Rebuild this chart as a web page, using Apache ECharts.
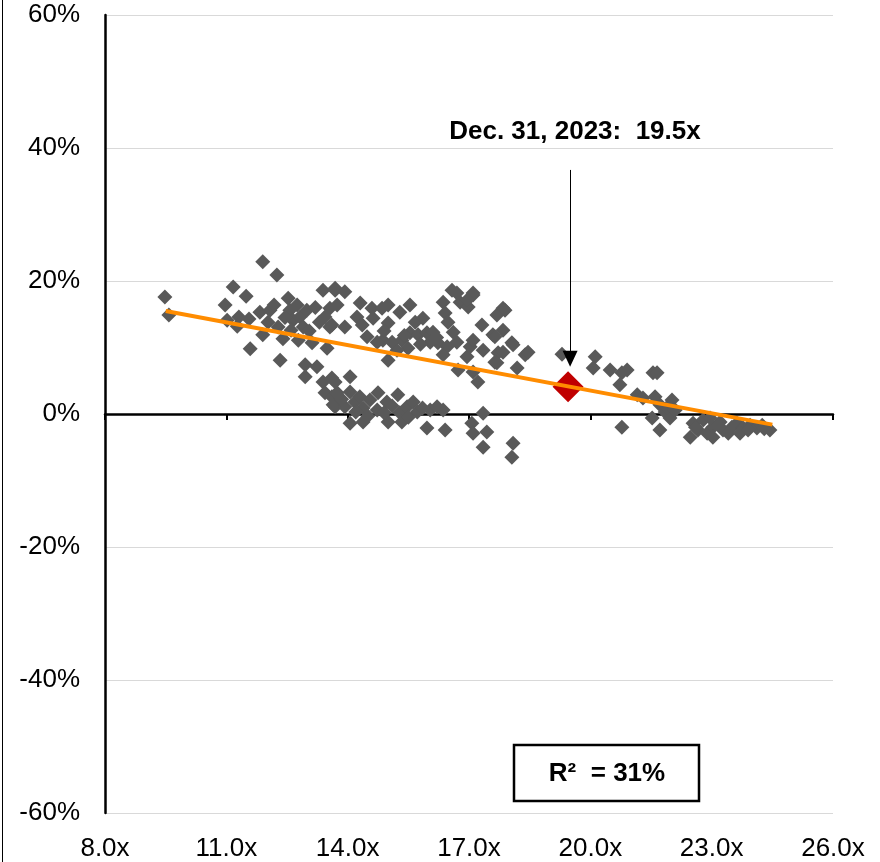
<!DOCTYPE html>
<html><head><meta charset="utf-8">
<script src="https://cdn.jsdelivr.net/npm/echarts@6/dist/echarts.min.js"></script>
<style>html,body{margin:0;padding:0;background:#fff}#c{width:880px;height:862px}</style>
</head><body><div id="c"></div>
<script>
// ---- axis settings ----
const xMin = 8, xMax = 26, xStep = 3;
const yMin = -60, yMax = 60, yStep = 20;

// ---- data: [P/E multiple (x), forward return (%)] ----
const pointsUpper = [
  [9.48,17.6],[9.58,14.9],
  [11.9,22.9],[12.25,20.9],[11.17,19.1],[11.49,17.7],[10.97,16.4],[11.02,14.1],[11.31,14.6],[11.27,13.2],
  [11.56,14.3],[11.59,9.8],[11.9,11.9],[11.83,15.3],[12.08,15.6],[12.18,16.4],[12.33,8.1],[12.03,13.8],
  [12.28,13.1],[12.4,11.3],[12.53,17.4],[12.57,15.6],[12.75,16.4],[12.65,14.1],[12.82,14.6],[12.99,15.6],
  [12.9,13.1],[12.78,11.1],[13.12,10.7],[12.95,7.4],[13.24,7.1],[12.95,5.6],[13.39,18.6],[13.69,18.6],
  [13.56,15.9],[13.44,14.6],[13.56,13.1],[13.49,9.9],[12.45,14.5],[13.05,12.5],[13.3,13.8],[12.6,12.6],[13.2,16.0],
  [13.69,18.9],[13.93,18.4],[13.74,16.4],[13.61,13.4],[13.93,13.1],[14.31,16.7],[14.23,14.6],[14.36,13.4],
  [14.6,15.9],[14.63,14.4],[14.48,11.6],[14.85,15.9],[15.0,16.4],[14.87,11.1],[15.0,8.1],[15.0,13.7],
  [15.29,15.3],[15.54,16.4],[15.67,13.8],[15.34,11.1],[15.54,12.2],[15.74,11.9],[15.96,12.2],[16.11,12.3],
  [15.49,9.9],[15.22,9.6],[16.23,10.7],[16.36,16.8],[16.58,18.6],[16.41,15.2],[16.48,13.8],[16.61,12.3],
  [16.78,16.8],[17.1,17.9],[16.98,16.1],[16.7,10.8],[16.46,10.1],[16.36,8.9],[16.73,6.6],[17.1,6.3],
  [17.22,4.8],[16.95,8.6],[17.03,10.1],[17.32,13.4],[17.1,11.1],[17.35,9.6],[17.69,14.9],[17.84,15.9],
  [17.59,11.9],[17.84,12.6],[18.06,10.7],[17.72,9.2],[17.69,7.7],[18.19,6.9],[18.39,8.9],[15.86,14.4],
  [16.04,10.8],[15.1,10.8],[14.73,10.8],[17.1,18.2],[16.95,17.1],[16.7,18.2],[18.46,9.3],[17.64,11.6],
  [17.64,7.8],[17.84,9.3],[18.09,10.4],[17.89,15.6],[15.8,10.5],[16.2,11.5],[15.4,11.8],[14.9,12.5]
];
const pointsLower = [
  [13.39,4.8],[13.61,5.4],[13.44,3.2],[13.61,2.6],[13.69,1.1],
  [13.69,4.8],[14.06,5.6],[13.74,3.2],[13.64,1.4],[14.06,3.3],[14.18,1.8],[13.93,1.1],[14.06,-1.4],
  [14.38,0.9],[14.55,2.1],[14.75,3.2],[14.73,0.6],[14.97,1.8],[15.0,-1.2],[15.24,2.9],[15.29,0.2],
  [15.47,1.1],[15.62,1.8],[15.72,0.3],[15.96,-2.1],[16.04,0.6],[16.21,1.1],[16.36,0.6],[16.41,-2.4],
  [15.34,-1.2],[14.38,-1.2],[17.35,0.1],[17.07,-1.4],[17.1,-2.9],[17.44,-2.7],[17.35,-5.0],[18.09,-4.4],
  [18.06,-6.5],[14.2,0.3],[14.5,-0.3],[14.9,0.2],[15.1,1.2],[15.5,-0.5],[15.85,0.9],[14.3,2.6],[13.85,2.2]
];
const pointsRight = [
  [19.3,9.0],[20.12,8.6],[20.07,6.9],[20.49,6.6],[20.78,6.2],[20.91,6.6],[20.73,4.4],[21.55,6.2],
  [21.65,6.2],[21.16,2.9],[21.3,2.4],[21.6,2.6],[21.72,1.4],[22.02,2.1],[21.85,0.3],[21.53,-0.6],
  [21.72,-2.4],[20.78,-2.0],[21.97,-0.6],[22.54,-1.4],[22.47,-3.5],[22.66,-2.4],[22.79,-0.9],[22.89,-2.9],
  [23.03,-2.0],[23.21,-1.2],[23.28,-2.4],[23.5,-2.0],[23.63,-1.4],[23.78,-2.1],[23.95,-1.7],[24.12,-2.1],
  [24.25,-1.7],[24.44,-2.4],[22.96,-0.6],[23.41,-2.9],[23.03,-3.5],[23.7,-2.9],[21.9,1.0],[22.1,0.6],
  [23.9,-2.4],[24.3,-2.2],[22.6,-2.0]
];
const currentPoint = [[19.45, 4.1]];
const trendLine = [[9.5, 15.5], [24.5, -1.6]];
const arrowFrom = [19.5, 36.7];
const arrowTo = [19.5, 8.3];
const annotationPos = [19.62, 42.4];
const annotationText = 'Dec. 31, 2023:  19.5x';
const rSquaredText = 'R\u00B2  = 31%';

const FONT = '"Liberation Sans", Arial, sans-serif';
const chart = echarts.init(document.getElementById('c'), null, {renderer: 'canvas'});

chart.setOption({
  animation: false,
  backgroundColor: '#fff',
  grid: {left: 105, right: 47, top: 15, bottom: 49},
  xAxis: [
    {
      type: 'value', min: xMin, max: xMax, interval: xStep, position: 'bottom',
      axisLine: {show: false, onZero: false},
      axisTick: {show: false},
      splitLine: {show: false},
      axisLabel: {formatter: v => v.toFixed(1) + 'x', fontSize: 26, color: '#000', margin: 23, fontFamily: FONT}
    },
    {
      type: 'value', min: xMin, max: xMax, interval: xStep, position: 'bottom',
      axisLine: {show: true, onZero: true, lineStyle: {color: '#000', width: 2.5}},
      axisTick: {show: true, length: 6, lineStyle: {color: '#000', width: 2}},
      axisLabel: {show: false},
      splitLine: {show: false}
    }
  ],
  yAxis: {
    type: 'value', min: yMin, max: yMax, interval: yStep,
    axisLine: {show: true, onZero: false, lineStyle: {color: '#000', width: 2.5}},
    axisTick: {show: false},
    splitLine: {show: true, lineStyle: {color: '#d9d9d9', width: 1}},
    axisLabel: {formatter: v => v + '%', fontSize: 26, color: '#000', margin: 25, fontFamily: FONT}
  },
  series: [
    {
      type: 'scatter', data: pointsUpper.concat(pointsLower, pointsRight),
      symbol: 'diamond', symbolSize: 15,
      itemStyle: {color: '#595959', opacity: 1}, silent: true
    },
    {
      type: 'scatter', data: currentPoint,
      symbol: 'diamond', symbolSize: 31,
      itemStyle: {color: '#C00000', opacity: 1}, silent: true,
      markLine: {
        silent: true, animation: false,
        label: {show: false},
        lineStyle: {color: '#000', width: 1, type: 'solid', opacity: 1},
        data: [[
          {coord: arrowFrom, symbol: 'none'},
          {coord: arrowTo, symbol: 'triangle', symbolSize: [15, 16]}
        ]]
      }
    },
    {
      type: 'line', data: trendLine, symbol: 'none', silent: true,
      lineStyle: {color: '#FF8C00', width: 4}
    }
  ]
});

const ap = chart.convertToPixel({gridIndex: 0}, annotationPos);
chart.setOption({
  graphic: [
    {type: 'line', id: 'frame', shape: {x1: 2.5, y1: 0, x2: 2.5, y2: 862}, style: {stroke: '#000', lineWidth: 1}, silent: true},
    {type: 'text', id: 'ann', x: ap[0], y: ap[1],
      style: {text: annotationText, fontSize: 26, fontWeight: 'bold', fontFamily: FONT, fill: '#000', align: 'center', verticalAlign: 'middle'}, silent: true},
    {type: 'rect', id: 'rbox', shape: {x: 514, y: 745, width: 185, height: 56}, style: {fill: '#fff', stroke: '#000', lineWidth: 2.5}, silent: true},
    {type: 'text', id: 'rtext', x: 607, y: 774,
      style: {text: rSquaredText, fontSize: 26, fontWeight: 'bold', fontFamily: FONT, fill: '#000', align: 'center', verticalAlign: 'middle'}, silent: true}
  ]
});
</script></body></html>
